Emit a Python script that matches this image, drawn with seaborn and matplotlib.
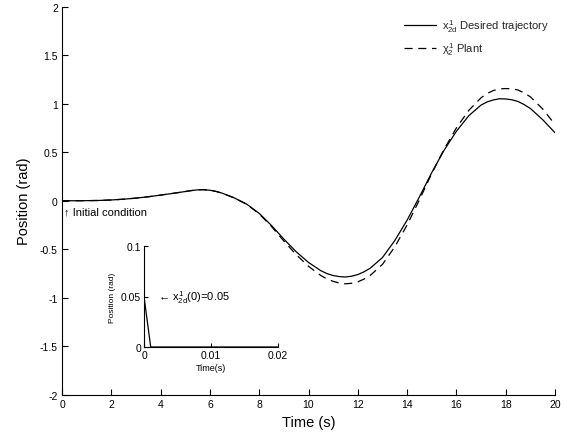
import matplotlib
matplotlib.use("Agg")
import matplotlib.pyplot as plt
import pandas as pd
import seaborn as sns

# Main simulation traces (time in s, position in rad); denser sampling near the extrema
time_s = [0.0, 0.5, 1.0, 1.5, 2.0, 2.5, 3.0, 3.5, 4.0, 4.5,
          5.0, 5.25, 5.5, 5.75, 6.0, 6.25, 6.5, 7.0, 7.5, 8.0, 8.5, 9.0, 9.5,
          10.0, 10.5, 10.75, 11.0, 11.25, 11.5, 11.75, 12.0, 12.25, 12.5,
          13.0, 13.5, 14.0, 14.5, 15.0, 15.5, 16.0, 16.5, 17.0, 17.25, 17.5,
          17.75, 18.0, 18.25, 18.5, 18.75, 19.0, 19.5, 20.0]
desired = [0.0, 0.0, 0.001, 0.003, 0.008, 0.016, 0.027, 0.041, 0.058, 0.076,
           0.095, 0.105, 0.112, 0.114, 0.108, 0.096, 0.078, 0.028, -0.036, -0.13,
           -0.255, -0.395, -0.525,
           -0.635, -0.72, -0.75, -0.77, -0.781, -0.785, -0.777, -0.76, -0.732, -0.695,
           -0.585, -0.41, -0.20, 0.04, 0.29, 0.52, 0.715, 0.875, 0.985, 1.018, 1.038,
           1.05, 1.048, 1.04, 1.022, 0.99, 0.95, 0.835, 0.70]
plant = [0.0, 0.0, 0.001, 0.003, 0.008, 0.016, 0.027, 0.041, 0.058, 0.076,
         0.095, 0.105, 0.112, 0.114, 0.108, 0.096, 0.078, 0.028, -0.038, -0.135,
         -0.265, -0.415, -0.555,
         -0.675, -0.77, -0.805, -0.83, -0.847, -0.855, -0.85, -0.835, -0.807, -0.77,
         -0.655, -0.475, -0.25, 0.01, 0.28, 0.53, 0.75, 0.93, 1.06, 1.105, 1.135,
         1.152, 1.155, 1.153, 1.14, 1.11, 1.07, 0.945, 0.785]

# Zoom on the first 20 ms
inset_time = [0.0, 0.001, 0.02]
inset_pos = [0.05, 0.0, 0.0]

x_ticks = [0, 2, 4, 6, 8, 10, 12, 14, 16, 18, 20]
y_ticks = [-2, -1.5, -1, -0.5, 0, 0.5, 1, 1.5, 2]
y_tick_labels = ["-2", "-1.5", "-1", "-0.5", "0", "0.5", "1", "1.5", "2"]
inset_x_ticks = [0, 0.01, 0.02]
inset_x_labels = ["0", "0.01", "0.02"]
inset_y_ticks = [0, 0.05, 0.1]
inset_y_labels = ["0", "0.05", "0.1"]

sns.set_theme(style="ticks")
plt.rcParams["font.family"] = ["Liberation Sans", "DejaVu Sans"]
plt.rcParams["axes.unicode_minus"] = False
plt.rcParams["mathtext.fontset"] = "custom"
plt.rcParams["mathtext.rm"] = "Liberation Sans"
plt.rcParams["mathtext.it"] = "Liberation Sans"
plt.rcParams["mathtext.bf"] = "Liberation Sans:bold"

fig = plt.figure(figsize=(5.67, 4.35), dpi=100)
fig.patch.set_facecolor("white")

ax = fig.add_axes([62 / 567, (435 - 396) / 435, 493 / 567, 388.5 / 435])
ax.set_facecolor("none")

df = pd.DataFrame({"t": time_s, "desired": desired, "plant": plant})
sns.lineplot(data=df, x="t", y="desired", ax=ax, color="black", lw=0.9,
             label=r"$x_{2d}^{1}$ Desired trajectory")
sns.lineplot(data=df, x="t", y="plant", ax=ax, color="black", lw=0.9,
             linestyle=(0, (6.5, 4.5)), label=r"$\chi_{2}^{1}$ Plant")

ax.set_xlim(0, 20)
ax.set_ylim(-2, 2)
ax.set_xticks(x_ticks)
ax.set_xticklabels([str(v) for v in x_ticks])
ax.set_yticks(y_ticks)
ax.set_yticklabels(y_tick_labels)
ax.tick_params(direction="in", length=4, width=0.8, labelsize=7.5, pad=3,
               colors="black")
for side in ("top", "right"):
    ax.spines[side].set_visible(False)
for side in ("left", "bottom"):
    ax.spines[side].set_linewidth(0.8)
    ax.spines[side].set_color("black")
ax.set_xlabel("Time (s)", fontsize=10.5, labelpad=4, color="black")
ax.set_ylabel("Position (rad)", fontsize=10.5, labelpad=6, color="black")

ax.text(0.08, -0.11, "\u2191 Initial condition", fontsize=8,
        ha="left", va="center", color="black")

leg = ax.legend(loc="upper right", bbox_to_anchor=(0.985, 0.982),
                bbox_transform=fig.transFigure, frameon=False, fontsize=8,
                handlelength=2.9, handletextpad=0.5, labelspacing=0.55)

# Inset: first milliseconds
ax_in = fig.add_axes([144 / 567, (435 - 348) / 435, 134 / 567, 101 / 435])
ax_in.set_facecolor("none")
sns.lineplot(x=inset_time, y=inset_pos, ax=ax_in, color="black", lw=0.9)
ax_in.set_xlim(0, 0.02)
ax_in.set_ylim(0, 0.1)
ax_in.set_xticks(inset_x_ticks)
ax_in.set_xticklabels(inset_x_labels)
ax_in.set_yticks(inset_y_ticks)
ax_in.set_yticklabels(inset_y_labels)
ax_in.tick_params(direction="in", length=3, width=0.8, labelsize=7.5, pad=2,
                  colors="black")
for side in ("top", "right"):
    ax_in.spines[side].set_visible(False)
for side in ("left", "bottom"):
    ax_in.spines[side].set_linewidth(0.8)
    ax_in.spines[side].set_color("black")
ax_in.set_xlabel("Time(s)", fontsize=6.5, labelpad=2, color="black")
ax_in.set_ylabel("Position (rad)", fontsize=6, labelpad=4, color="black")
ax_in.text(0.0021, 0.05, "\u2190 $x_{2d}^{1}$(0)=0.05",
           fontsize=8, ha="left", va="center", color="black")

fig.savefig("out.png", dpi=100)
